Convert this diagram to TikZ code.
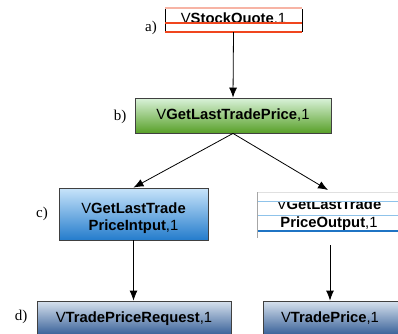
\documentclass[tikz,border=0pt]{standalone}
\usepackage{fontspec}
\setmainfont{Liberation Serif}
\setsansfont{Liberation Sans}
\usetikzlibrary{arrows.meta}
\newcommand\vname[1]{V\textbf{#1},1}
\begin{document}
\begin{tikzpicture}[x=1pt,y=-1pt,
  lbl/.style={font=\fontsize{15}{15}\selectfont},
  btxt/.style={font=\fontsize{14.8}{18}\selectfont\sffamily, align=center, inner sep=0pt},
  arr/.style={-{Latex[length=10pt,width=8pt]}, line width=0.8pt},
  boxline/.style={draw=black!75, line width=0.8pt},
  greenbox/.style={boxline, top color=green!10!white!95!black, bottom color={rgb,255:red,88;green,160;blue,40}, shading angle=0},
  bluebox/.style={boxline, top color={rgb,255:red,200;green,228;blue,250}, bottom color={rgb,255:red,36;green,124;blue,204}},
  navybox/.style={boxline, top color={rgb,255:red,215;green,226;blue,238}, bottom color={rgb,255:red,26;green,72;blue,136}},
]
\useasboundingbox (0,0) rectangle (398,333);
\definecolor{salmon}{RGB}{247,180,165}
\definecolor{redline}{RGB}{240,70,30}
\definecolor{lblue}{RGB}{143,195,234}
\definecolor{dblue}{RGB}{31,116,196}

% a) box
\node (a) at (233.5,20) [minimum width=137pt, minimum height=24pt, inner sep=0pt] {};
\begin{scope}
  \clip (165,8) rectangle (302,22);
  \node[btxt, anchor=base] (atxt) at (233.5,23.5) {\vname{StockQuote}};
\end{scope}
\draw[salmon, line width=2pt] (a.north west) -- (a.north east);
\draw[line width=0.8pt] (165,9) -- (165,32) (302,9) -- (302,32);
\draw[redline, line width=2pt] (165,22.5) -- (302,22.5);
\draw[redline, line width=2pt] (a.south west) -- (a.south east);
\node[lbl] (la) at (151,28) {a)};

% b) box
\node[greenbox, minimum width=196pt, minimum height=35pt, btxt] (b) at (233,115.5) {\vname{GetLastTradePrice}};
\node[lbl] (lb) at (120,117) {b)};

% c) box
\node[bluebox, minimum width=149pt, minimum height=52pt] (c) at (133.5,214) {};
\node[btxt, anchor=base] (c1) at (133.5,213) {V\textbf{GetLastTrade}};
\node[btxt, anchor=base] (c2) at (133.5,230) {\textbf{PriceIntput},1};
\node[lbl] (lc) at (42,214) {c)};

% right c) box
\node (co) at (329,215) [minimum width=144pt, minimum height=46pt, inner sep=0pt] {};
\begin{scope}
  \clip (257,201) rectangle (400,231);
  \node[btxt, anchor=base] (co1) at (329,209.5) {V\textbf{GetLastTrade}};
  \node[btxt, anchor=base] (co2) at (329,227.5) {\textbf{PriceOutput},1};
\end{scope}
\draw[black!12, line width=1pt] (257,192) -- (398,192);
\draw[lblue, line width=1pt] (257,201) -- (398,201);
\draw[lblue, line width=1pt] (257,215) -- (398,215);
\draw[dblue, line width=2pt] (257,231) -- (398,231);
\draw[black!35, line width=0.8pt] (257,192) -- (257,238);
\coordinate (cobot) at (330,245);

% d) boxes
\node[navybox, minimum width=194pt, minimum height=40pt] (d1) at (134,321) {};
\node[btxt, anchor=base] (d1t) at (134,322) {\vname{TradePriceRequest}};
\node[navybox, minimum width=140pt, minimum height=40pt] (d2) at (333,321) {};
\node[btxt, anchor=base] (d2t) at (330,322) {\vname{TradePrice}};
\node[lbl] (ld) at (21,317) {d)};

% arrows
\draw[arr] (a.south) -- (b.north);
\draw[arr] (b.south) -- (c.north);
\draw[arr] (b.south) -- (328,190);
\draw[arr] (c.south) -- (c.south |- d1.north);
\draw[arr] (cobot) -- (cobot |- d2.north);
\end{tikzpicture}
\end{document}
